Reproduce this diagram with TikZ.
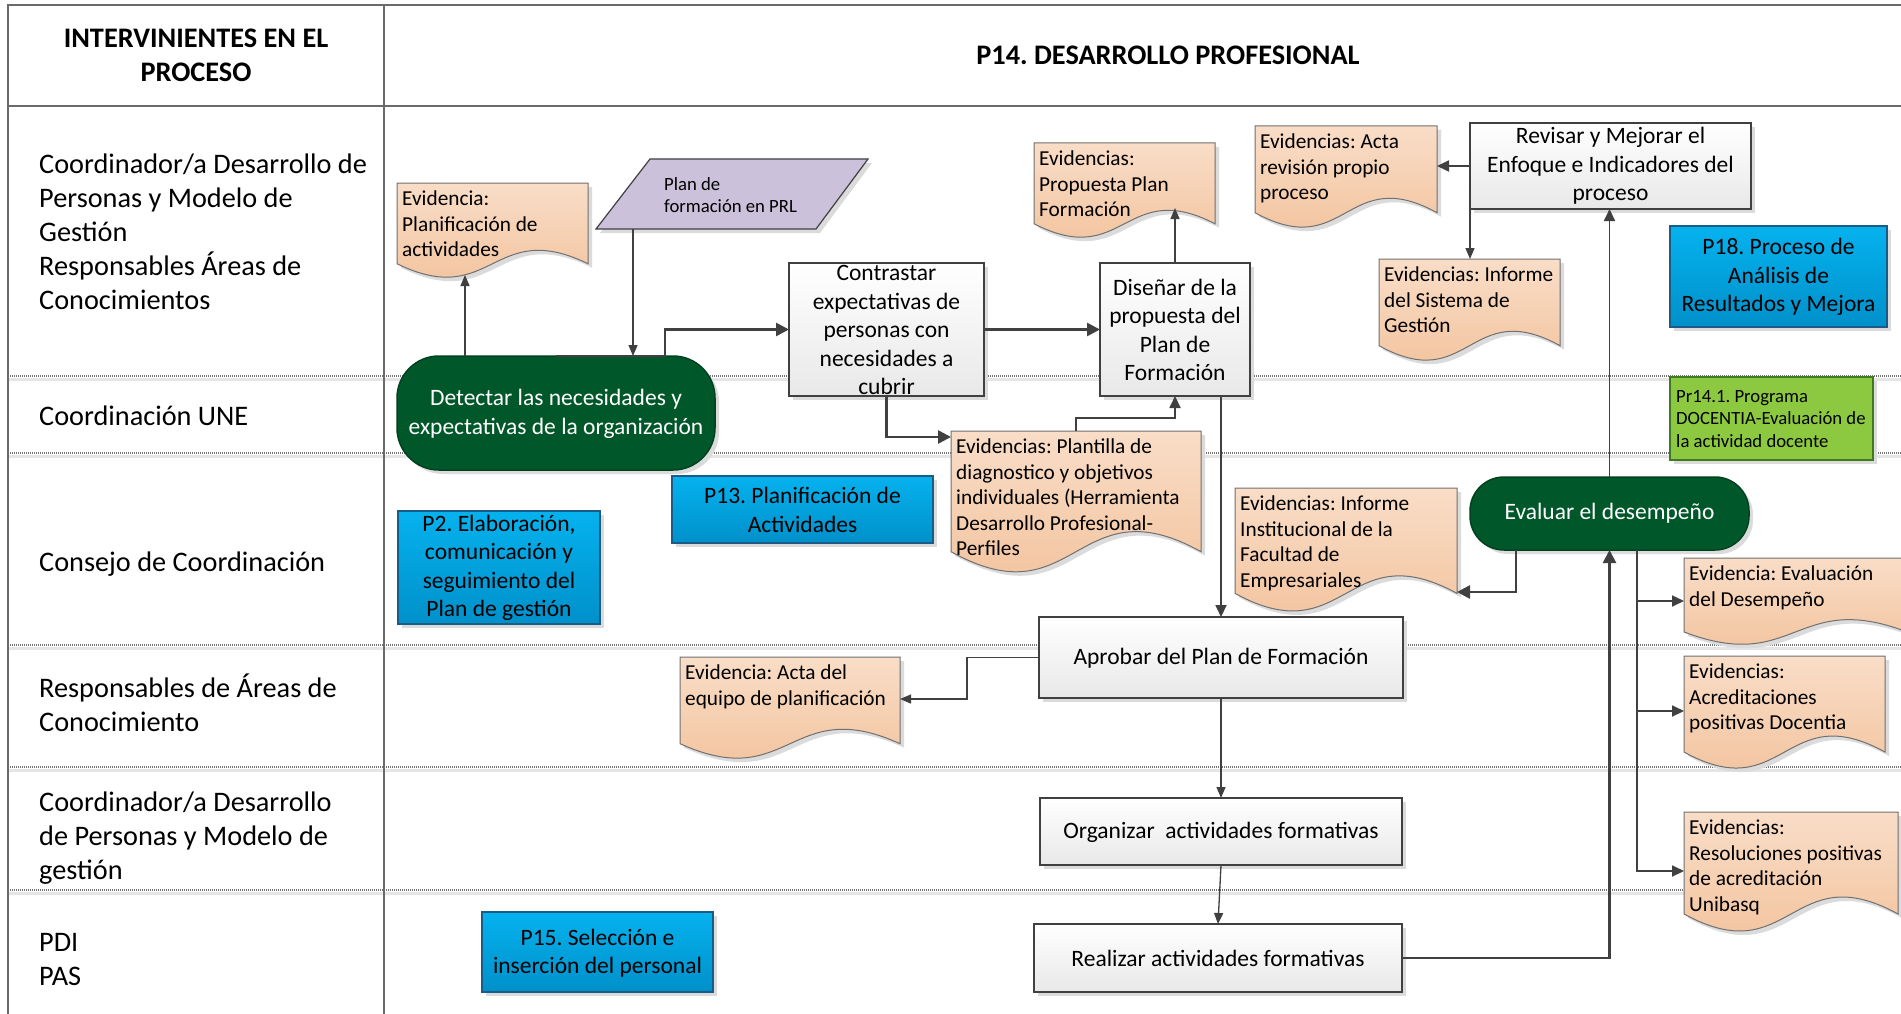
\documentclass[tikz,border=0pt]{standalone}
\usepackage{fontspec}
\setmainfont{Carlito}
\usetikzlibrary{arrows.meta,calc,shadows}
\frenchspacing

\definecolor{ink}{HTML}{404040}
\definecolor{evTop}{HTML}{F9DDC7}
\definecolor{evBot}{HTML}{F1BE95}
\definecolor{evLine}{HTML}{707070}
\definecolor{grn}{HTML}{00582A}
\definecolor{bluTop}{HTML}{05B2EE}
\definecolor{bluBot}{HTML}{0090CA}
\definecolor{bluLine}{HTML}{1B5C86}
\definecolor{lime}{HTML}{8DC940}
\definecolor{limeLine}{HTML}{3F7A22}
\definecolor{lav}{HTML}{CCC1DB}
\definecolor{frame}{HTML}{6A6A6A}

% document-shaped evidence box: name, left, top, width, height, text
\newcommand\evdoc[6]{%
  \node[inner sep=0pt, outer sep=0pt, minimum width=#4pt, minimum height=#5pt, anchor=north west] (#1) at (#2,#3) {};
  \path[evshape] (#2,#3) -- (#2+#4,#3) -- (#2+#4,#3+0.85*#5)
     .. controls (#2+0.5*#4,#3+0.36*#5) and (#2+0.5*#4,#3+1.34*#5) .. (#2,#3+0.85*#5) -- cycle;
  \node[evtxt] (#1-t) at (#2+5,#3+8) {#6};
}

\begin{document}
\begin{tikzpicture}[x=1pt,y=-1pt,
  shade/.style={drop shadow={shadow xshift=4pt,shadow yshift=-4pt,fill=black!14,opacity=1}},
  procbox/.style={draw=ink, line width=1.2pt, top color=white, bottom color=black!9, shade, inner sep=0pt, outer sep=0pt},
  termbox/.style={fill=grn, draw=grn!75!black, line width=1.5pt, shade, inner sep=0pt, outer sep=0pt},
  bluebox/.style={draw=bluLine, line width=1.2pt, top color=bluTop, bottom color=bluBot, shade, inner sep=0pt, outer sep=0pt},
  limebox/.style={draw=limeLine, line width=1.2pt, fill=lime, shade, inner sep=0pt, outer sep=0pt},
  evshape/.style={draw=evLine, line width=1pt, top color=evTop, bottom color=evBot, shade},
  boxtxt/.style={font=\fontsize{23.5}{28.5}\selectfont, align=center, inner sep=0pt},
  evtxt/.style={font=\fontsize{21.3}{25.5}\selectfont, align=left, inner sep=0pt, anchor=north west},
  smalltxt/.style={font=\fontsize{18.7}{22.5}\selectfont, align=left, inner sep=0pt},
  lanetxt/.style={font=\fontsize{28.3}{34}\selectfont, align=left, inner sep=0pt, anchor=west},
  hdrtxt/.style={font=\bfseries\fontsize{28.3}{34}\selectfont, align=center, inner sep=0pt},
  lanesep/.style={black!55, line width=1.2pt, dash pattern=on 1pt off 1pt},
  laneshade/.style={black!10, line width=3pt},
  thickarr/.style={draw=ink, line width=2.6pt, -{Triangle[length=13pt,width=13pt]}},
  medarr/.style={draw=ink, line width=1.8pt, -{Triangle[length=12pt,width=11pt]}},
  thinarr/.style={draw=ink, line width=1.3pt, -{Triangle[length=11pt,width=9pt]}},
  ]
\useasboundingbox (0,0) rectangle (1901,1014);
\clip (0,0) rectangle (1901,1014);
\fill[white] (0,0) rectangle (1901,1014);

% ---- swimlane grid ----
\foreach \yy in {376,453,645,767,890}{
  \draw[laneshade] (8,\yy+3) -- (1901,\yy+3);
  \draw[lanesep] (8,\yy) -- (1901,\yy);
}
\draw[frame, line width=1.6pt] (8,1014) -- (8,5) -- (1901,5);
\draw[frame, line width=1.6pt] (8,106) -- (1901,106);
\draw[frame, line width=1.2pt] (384,5) -- (384,1014);

% ---- headers ----
\node[hdrtxt] (hdrA) at (196,55) {INTERVINIENTES EN EL\\PROCESO};
\node[hdrtxt] (hdrB) at (1168,55) {P14. DESARROLLO PROFESIONAL};

% ---- lane labels ----
\node[lanetxt] (lane1) at (39,232) {Coordinador/a Desarrollo de\\Personas y Modelo de\\Gestión\\Responsables Áreas de\\Conocimientos};
\node[lanetxt] (lane2) at (39,416) {Coordinación UNE};
\node[lanetxt] (lane3) at (39,564) {Consejo de Coordinación};
\node[lanetxt] (lane4) at (39,703) {Responsables de Áreas de\\Conocimiento};
\node[lanetxt] (lane5) at (39,838) {Coordinador/a Desarrollo\\de Personas y Modelo de\\gestión};
\node[lanetxt] (lane6) at (39,959.5) {PDI\\PAS};

% ---- input data ----
\node[inner sep=0pt, outer sep=0pt, minimum width=272pt, minimum height=70pt] (plan) at (732,194) {};
\path[draw=ink, line width=1.2pt, fill=lav, shade] (650,159) -- (868,159) -- (816,229) -- (596,229) -- cycle;
\node[smalltxt, anchor=west] (plan-t) at (664,195) {Plan de\\formación en PRL};

% ---- process steps ----
\node[termbox, rounded corners=42pt, minimum width=318pt, minimum height=114pt] (detect) at (556,413) {};
\node[boxtxt, text=white] (detect-t) at (556,414) {Detectar las necesidades y\\expectativas de la organización};

\node[procbox, minimum width=195pt, minimum height=133pt] (contr) at (886.5,329.5) {};
\node[boxtxt] (contr-t) at (886.5,330) {Contrastar\\expectativas de\\personas con\\necesidades a\\cubrir};

\node[procbox, minimum width=150pt, minimum height=133pt] (disen) at (1175,329.5) {};
\node[boxtxt] (disen-t) at (1175,330) {Diseñar de la\\propuesta del\\Plan de\\Formación};

\node[procbox, minimum width=364pt, minimum height=81pt] (aprob) at (1221,657.5) {};
\node[boxtxt] (aprob-t) at (1221,658) {Aprobar del Plan de Formación};

\node[procbox, minimum width=362pt, minimum height=67pt] (organ) at (1221,831.5) {};
\node[boxtxt] (organ-t) at (1221,832) {Organizar\ \ actividades formativas};

\node[procbox, minimum width=368pt, minimum height=68pt] (realiz) at (1218,958) {};
\node[boxtxt] (realiz-t) at (1218,958) {Realizar actividades formativas};

\node[procbox, minimum width=281pt, minimum height=86pt] (revis) at (1610.5,166) {};
\node[boxtxt] (revis-t) at (1610.5,166) {Revisar y Mejorar el\\Enfoque e Indicadores del\\proceso};

\node[termbox, rounded corners=34pt, minimum width=279pt, minimum height=73pt] (eval) at (1609.5,513.5) {};
\node[boxtxt, text=white] (eval-t) at (1609.5,513.5) {Evaluar el desempeño};

% ---- related processes ----
\node[bluebox, minimum width=217pt, minimum height=101pt] (p18) at (1778.5,276.5) {};
\node[boxtxt] (p18-t) at (1778.5,277) {P18. Proceso de\\Análisis de\\Resultados y Mejora};

\node[limebox, minimum width=203pt, minimum height=83pt] (pr141) at (1771.5,418.5) {};
\node[smalltxt, anchor=west] (pr141-t) at (1676,419) {Pr14.1. Programa\\DOCENTIA-Evaluación de\\la actividad docente};

\node[bluebox, minimum width=261pt, minimum height=67pt] (p13) at (802.5,509.5) {};
\node[boxtxt] (p13-t) at (802.5,510) {P13. Planificación de\\Actividades};

\node[bluebox, minimum width=202pt, minimum height=113pt] (p2) at (499,567.5) {};
\node[boxtxt] (p2-t) at (499,568) {P2. Elaboración,\\comunicación y\\seguimiento del\\Plan de gestión};

\node[bluebox, minimum width=231pt, minimum height=80pt] (p15) at (597.5,952) {};
\node[boxtxt] (p15-t) at (597.5,953) {P15. Selección e\\inserción del personal};

% ---- evidences ----
\evdoc{evPlan}{397}{183}{191}{95}{Evidencia:\\Planificación de\\actividades}
\evdoc{evProp}{1034}{143}{181}{95}{Evidencias:\\Propuesta Plan\\Formación}
\evdoc{evActa}{1255}{126}{182}{102}{Evidencias: Acta\\revisión propio\\proceso}
\evdoc{evInfSG}{1379}{259}{181}{102}{Evidencias: Informe\\del Sistema de\\Gestión}
\evdoc{evPlant}{951}{431}{250}{142}{Evidencias: Plantilla de\\diagnostico y objetivos\\individuales (Herramienta\\Desarrollo Profesional-\\Perfiles}
\evdoc{evEquipo}{680}{657}{220}{102}{Evidencia: Acta del\\equipo de planificación}
\evdoc{evInst}{1235}{488}{222}{124}{Evidencias: Informe\\Institucional de la\\Facultad de\\Empresariales}
\evdoc{evEvalD}{1684}{558}{223}{87}{Evidencia: Evaluación\\del Desempeño}
\evdoc{evAcred}{1684}{656}{201}{113}{Evidencias:\\Acreditaciones\\positivas Docentia}
\evdoc{evResol}{1684}{812}{214}{120}{Evidencias:\\Resoluciones positivas\\de acreditación\\Unibasq}

% ---- connectors ----
\draw[thinarr] ($(plan.south)+(-99,0)$) -- ($(detect.north)+(77,0)$);
\draw[thinarr] ($(detect.north)+(-91,0)$) -- ($(evPlan.south)+(-27.5,-3)$);
\draw[thickarr] (detect.north) -- ($(detect.north)+(109,0)$) |- (contr.west);
\draw[thickarr] (contr.east) -- (disen.west);
\draw[thinarr] (disen.north) -- ($(evProp.south west)+(141,-30)$);
\draw[thickarr] (contr.south) |- ($(evPlant.north west)+(0,6)$);
\draw[medarr] ($(evPlant.north west)+(125,0)$) |- ($(disen.south)+(0,22)$) -- (disen.south);
\draw[medarr] ($(disen.south)+(46,0)$) -- (aprob.north);
\draw[thinarr] (aprob.west) -- ($(aprob.west)+(-72,0)$) |- ($(evEquipo.east)+(0,-9)$);
\draw[thinarr] (aprob.south) -- (organ.north);
\draw[thinarr] (organ.south) -- (realiz.north);
\draw[thickarr] (realiz.east) -| (eval.south);
\draw[medarr] (eval.north) -- (eval.north |- revis.south);
\draw[medarr] (revis.west) -- (revis.west -| evActa.east);
\draw[thinarr] (revis.south west) -- (revis.south west |- evInfSG.north);
\draw[thickarr] ($(eval.south west)+(46,0)$) |- ($(evInst.east)+(0,42)$);
\draw[medarr] ($(eval.south east)+(-112,0)$) |- ($(evEvalD.north west)+(0,43)$);
\draw[medarr] ($(eval.south east)+(-112,0)$) |- ($(evAcred.north west)+(0,55)$);
\draw[medarr] ($(eval.south east)+(-112,0)$) |- ($(evResol.north west)+(0,59)$);
\end{tikzpicture}
\end{document}
